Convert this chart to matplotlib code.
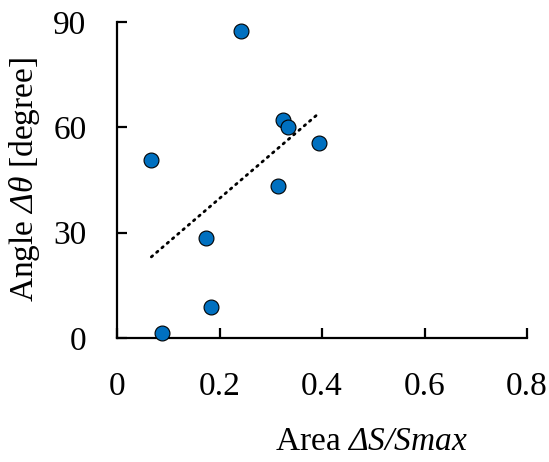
import matplotlib
matplotlib.use("Agg")
import matplotlib.pyplot as plt
import numpy as np

# Area dS/Smax vs angle d-theta
area = [0.242, 0.067, 0.324, 0.334, 0.394, 0.314, 0.173, 0.183, 0.087]
angle = [87.3, 50.6, 62.0, 60.1, 55.4, 43.4, 28.5, 8.9, 1.3]

x_ticks = [0, 0.2, 0.4, 0.6, 0.8]
x_tick_labels = ["0", "0.2", "0.4", "0.6", "0.8"]
y_ticks = [0, 30, 60, 90]

plt.rcParams["font.family"] = ["Liberation Serif", "DejaVu Serif"]
plt.rcParams["mathtext.fontset"] = "custom"
plt.rcParams["mathtext.rm"] = "Liberation Serif"
plt.rcParams["mathtext.it"] = "Liberation Serif:italic"
# sf slot used for italic greek capitals (mathtext forces them upright in 'it')
plt.rcParams["mathtext.sf"] = "Liberation Serif:italic"

fig = plt.figure(figsize=(5.49, 4.62), dpi=100)
ax = fig.add_axes([117 / 549, 1 - 338 / 462, 410 / 549, 316 / 462])

# linear trendline over the data range
coef = np.polyfit(area, angle, 1)
x_fit = np.array([min(area), max(area)])
ax.plot(x_fit, np.polyval(coef, x_fit), color="black", lw=2.0,
        linestyle=(0, (0.6, 1.9)), dash_capstyle="round", zorder=2)

ax.scatter(area, angle, s=115, color="#0070C0", edgecolor="black",
           linewidth=0.8, zorder=3, clip_on=False)

ax.set_xlim(0, 0.8)
ax.set_ylim(0, 90)
ax.set_xticks(x_ticks)
ax.set_xticklabels(x_tick_labels)
ax.set_yticks(y_ticks)

for side in ["top", "right"]:
    ax.spines[side].set_visible(False)
for side in ["left", "bottom"]:
    ax.spines[side].set_linewidth(1.6)

ax.tick_params(axis="both", direction="in", length=7, width=1.6,
               labelsize=24)
ax.tick_params(axis="x", pad=24)
ax.tick_params(axis="y", pad=22)

ax.set_xlabel(r"Area $\mathsf{\Delta S/Smax}$", fontsize=24)
ax.xaxis.set_label_coords(0.62, -0.28)
ax.set_ylabel(r"Angle $\mathsf{\Delta\theta}$ [degree]", fontsize=24)
ax.yaxis.set_label_coords(-0.183, 0.5)

fig.savefig("out.png", dpi=100)
